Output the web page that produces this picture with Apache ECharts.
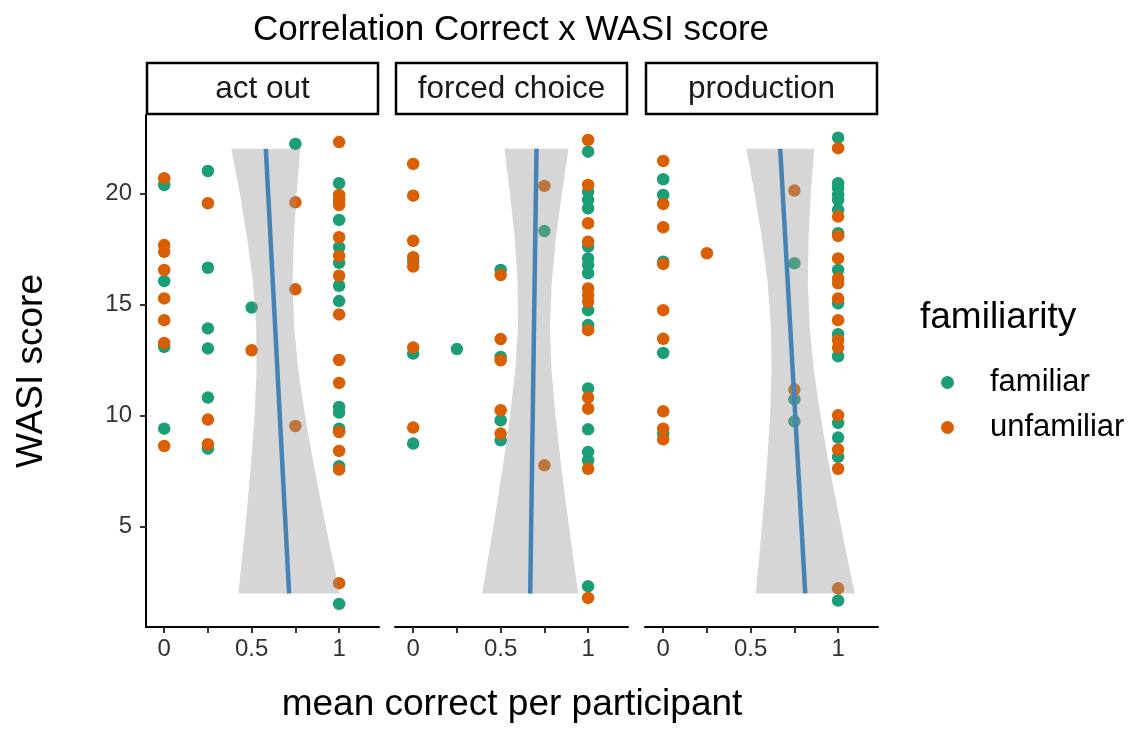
<!DOCTYPE html>
<html>
<head>
<meta charset="utf-8">
<script src="https://cdn.jsdelivr.net/npm/echarts@6/dist/echarts.min.js"></script>
<style>
html,body{margin:0;padding:0;background:#fff;}
#chart{width:1131px;height:753px;}
</style>
</head>
<body>
<div id="chart"></div>
<script>
// ---------- data ----------
const facets = ['act out', 'forced choice', 'production'];
const groups = ['familiar', 'unfamiliar'];
const xTicks = [0, 0.25, 0.5, 0.75, 1];
const xLabels = [0, 0.5, 1];
const yTicks = [5, 10, 15, 20];

// [mean correct, WASI score]
const actOutFamiliar = [
  [0,20.37],[0,16.05],[0,13.09],[0,9.41],
  [0.25,21.0],[0.25,16.65],[0.25,13.92],[0.25,13.02],[0.25,10.81],[0.25,8.51],
  [0.5,14.86],
  [0.75,22.22],
  [1,20.45],[1,18.80],[1,17.57],[1,16.87],[1,15.84],[1,15.15],[1,10.39],[1,10.14],[1,9.41],[1,7.72],[1,1.53]
];
const actOutUnfamiliar = [
  [0,20.68],[0,17.67],[0,17.37],[0,16.55],[0,15.27],[0,14.29],[0,13.27],[0,8.63],
  [0.25,19.55],[0.25,9.82],[0.25,8.71],
  [0.5,12.94],
  [0.75,19.59],[0.75,15.68],[0.75,9.53],
  [1,22.30],[1,19.92],[1,19.70],[1,19.47],[1,18.02],[1,17.18],[1,16.29],[1,14.55],[1,12.50],[1,11.47],[1,9.26],[1,8.41],[1,7.57],[1,2.46]
];
const forcedFamiliar = [
  [0,16.92],[0,12.79],[0,8.74],
  [0.25,12.99],
  [0.5,16.55],[0.5,12.64],[0.5,9.79],[0.5,8.89],
  [0.75,18.30],
  [1,21.87],[1,20.07],[1,19.70],[1,19.32],[1,17.60],[1,17.07],[1,16.77],[1,16.40],[1,14.74],[1,14.07],[1,11.22],[1,9.38],[1,8.36],[1,7.99],[1,2.32]
];
const forcedUnfamiliar = [
  [0,21.32],[0,19.89],[0,17.86],[0,17.12],[0,16.70],[0,13.06],[0,9.46],
  [0.5,16.32],[0.5,13.44],[0.5,12.49],[0.5,10.24],[0.5,9.19],
  [0.75,20.33],[0.75,7.76],
  [1,22.40],[1,20.37],[1,18.65],[1,17.82],[1,15.72],[1,15.42],[1,15.12],[1,13.84],[1,10.81],[1,10.31],[1,7.61],[1,1.80]
];
const prodFamiliar = [
  [0,20.63],[0,19.92],[0,16.92],[0,12.82],[0,9.19],
  [0.75,16.85],[0.75,10.73],[0.75,9.74],
  [1,22.50],[1,20.45],[1,20.23],[1,19.92],[1,19.70],[1,19.25],[1,18.20],[1,16.55],[1,15.05],[1,13.66],[1,12.67],[1,9.67],[1,9.01],[1,8.14],[1,1.68]
];
const prodUnfamiliar = [
  [0,21.45],[0,19.52],[0,18.47],[0,16.82],[0,14.74],[0,13.45],[0,10.19],[0,9.41],[0,8.93],
  [0.25,17.30],
  [0.75,20.12],[0.75,11.17],
  [1,22.03],[1,18.95],[1,18.08],[1,17.07],[1,16.17],[1,15.95],[1,15.27],[1,14.29],[1,13.39],[1,13.06],[1,10.01],[1,8.47],[1,7.61],[1,2.23]
];

// fitted line and confidence band (x as a function of WASI score)
const fitY = [2, 22];
const actOutFitX = [0.714, 0.581];
const forcedFitX = [0.669, 0.705];
const prodFitX = [0.812, 0.669];
const bandY = [2, 4, 6, 8, 10, 12, 14, 16, 18, 20, 22];
const actOutBandLo = [0.424,0.451,0.476,0.498,0.517,0.528,0.526,0.508,0.474,0.432,0.384];
const actOutBandHi = [1.004,0.951,0.899,0.850,0.805,0.767,0.743,0.734,0.741,0.757,0.778];
const forcedBandLo = [0.395,0.437,0.479,0.518,0.554,0.583,0.599,0.597,0.580,0.553,0.522];
const forcedBandHi = [0.943,0.908,0.874,0.842,0.813,0.791,0.782,0.792,0.816,0.850,0.888];
const prodBandLo = [0.529,0.553,0.575,0.595,0.611,0.619,0.616,0.597,0.564,0.522,0.475];
const prodBandHi = [1.095,1.042,0.992,0.943,0.899,0.862,0.837,0.827,0.831,0.844,0.863];

// ---------- styling / layout ----------
const FONT = '"Liberation Sans", Arial, Helvetica, sans-serif';
const colors = { familiar: '#1B9E77', unfamiliar: '#D95F02' };
const panelLeft = [146, 395, 645];
const panelW = 233, panelTop = 115, panelH = 512;
const xMin = -0.104, xMax = 1.228, yMin = 0.49, yMax = 23.52;

const pointSets = [
  [actOutFamiliar, actOutUnfamiliar],
  [forcedFamiliar, forcedUnfamiliar],
  [prodFamiliar, prodUnfamiliar]
];
const fitSets = [actOutFitX, forcedFitX, prodFitX];
const bandSets = [[actOutBandLo, actOutBandHi], [forcedBandLo, forcedBandHi], [prodBandLo, prodBandHi]];

const grids = [], xAxes = [], yAxes = [], series = [], graphics = [];

facets.forEach((f, i) => {
  grids.push({ left: panelLeft[i], top: panelTop, width: panelW, height: panelH, containLabel: false });
  xAxes.push({
    type: 'value', gridIndex: i, min: xMin, max: xMax,
    axisLine: { show: true, onZero: false, lineStyle: { color: '#000', width: 2 } },
    axisTick: { show: true, customValues: xTicks, length: 6, lineStyle: { color: '#333', width: 2 } },
    axisLabel: { show: true, customValues: xLabels, margin: 10, fontSize: 24, color: '#333', fontFamily: FONT },
    splitLine: { show: false }
  });
  yAxes.push({
    type: 'value', gridIndex: i, min: yMin, max: yMax, show: i === 0,
    axisLine: { show: true, onZero: false, lineStyle: { color: '#000', width: 2 } },
    axisTick: { show: true, customValues: yTicks, length: 6, lineStyle: { color: '#333', width: 2 } },
    axisLabel: { show: true, customValues: yTicks, margin: 14, fontSize: 24, color: '#333', fontFamily: FONT },
    splitLine: { show: false }
  });

  groups.forEach((g, gi) => {
    series.push({
      type: 'scatter', name: g, xAxisIndex: i, yAxisIndex: i,
      data: pointSets[i][gi], symbolSize: 12.5, z: 2,
      itemStyle: { color: colors[g], opacity: 1 }
    });
  });

  const lo = bandSets[i][0], hi = bandSets[i][1];
  series.push({
    type: 'custom', xAxisIndex: i, yAxisIndex: i, z: 3, silent: true,
    data: [[0, 0]],
    renderItem: function (params, api) {
      const pts = [];
      for (let k = 0; k < bandY.length; k++) pts.push(api.coord([lo[k], bandY[k]]));
      for (let k = bandY.length - 1; k >= 0; k--) pts.push(api.coord([hi[k], bandY[k]]));
      return { type: 'polygon', shape: { points: pts }, style: { fill: 'rgba(153,153,153,0.4)', stroke: null } };
    }
  });

  series.push({
    type: 'line', xAxisIndex: i, yAxisIndex: i, z: 4, silent: true,
    data: fitY.map((y, k) => [fitSets[i][k], y]),
    symbol: 'none', lineStyle: { color: '#4682B4', width: 4.5 }
  });

  // facet strip
  graphics.push({
    type: 'rect', shape: { x: panelLeft[i] + 1, y: 63, width: panelW - 2, height: 51 },
    style: { fill: '#fff', stroke: '#000', lineWidth: 2.5 }
  });
  graphics.push({
    type: 'text', x: panelLeft[i] + panelW / 2, y: 89,
    style: { text: f, font: '31.5px ' + FONT, fill: '#1a1a1a', textAlign: 'center', textVerticalAlign: 'middle' }
  });
});

// titles
graphics.push({
  type: 'text', x: 511, y: 30,
  style: { text: 'Correlation Correct x WASI score', font: '35px ' + FONT, fill: '#000', textAlign: 'center', textVerticalAlign: 'middle' }
});
graphics.push({
  type: 'text', x: 512, y: 705,
  style: { text: 'mean correct per participant', font: '37px ' + FONT, fill: '#000', textAlign: 'center', textVerticalAlign: 'middle' }
});
graphics.push({
  type: 'text', x: 32, y: 371, rotation: Math.PI / 2,
  style: { text: 'WASI score', font: '37px ' + FONT, fill: '#000', textAlign: 'center', textVerticalAlign: 'middle' }
});
graphics.push({
  type: 'text', x: 920, y: 318,
  style: { text: 'familiarity', font: '37px ' + FONT, fill: '#000', textAlign: 'left', textVerticalAlign: 'middle' }
});

const chart = echarts.init(document.getElementById('chart'), null, { renderer: 'canvas' });
chart.setOption({
  animation: false,
  backgroundColor: '#fff',
  grid: grids,
  xAxis: xAxes,
  yAxis: yAxes,
  legend: {
    data: groups, orient: 'vertical', left: 936, top: 359,
    icon: 'circle', itemWidth: 13, itemHeight: 13, itemGap: 8, selectedMode: false,
    textStyle: { fontSize: 31, color: '#000', fontFamily: FONT, lineHeight: 37, padding: [0, 0, 0, 31] }
  },
  graphic: graphics,
  series: series
});
</script>
</body>
</html>
